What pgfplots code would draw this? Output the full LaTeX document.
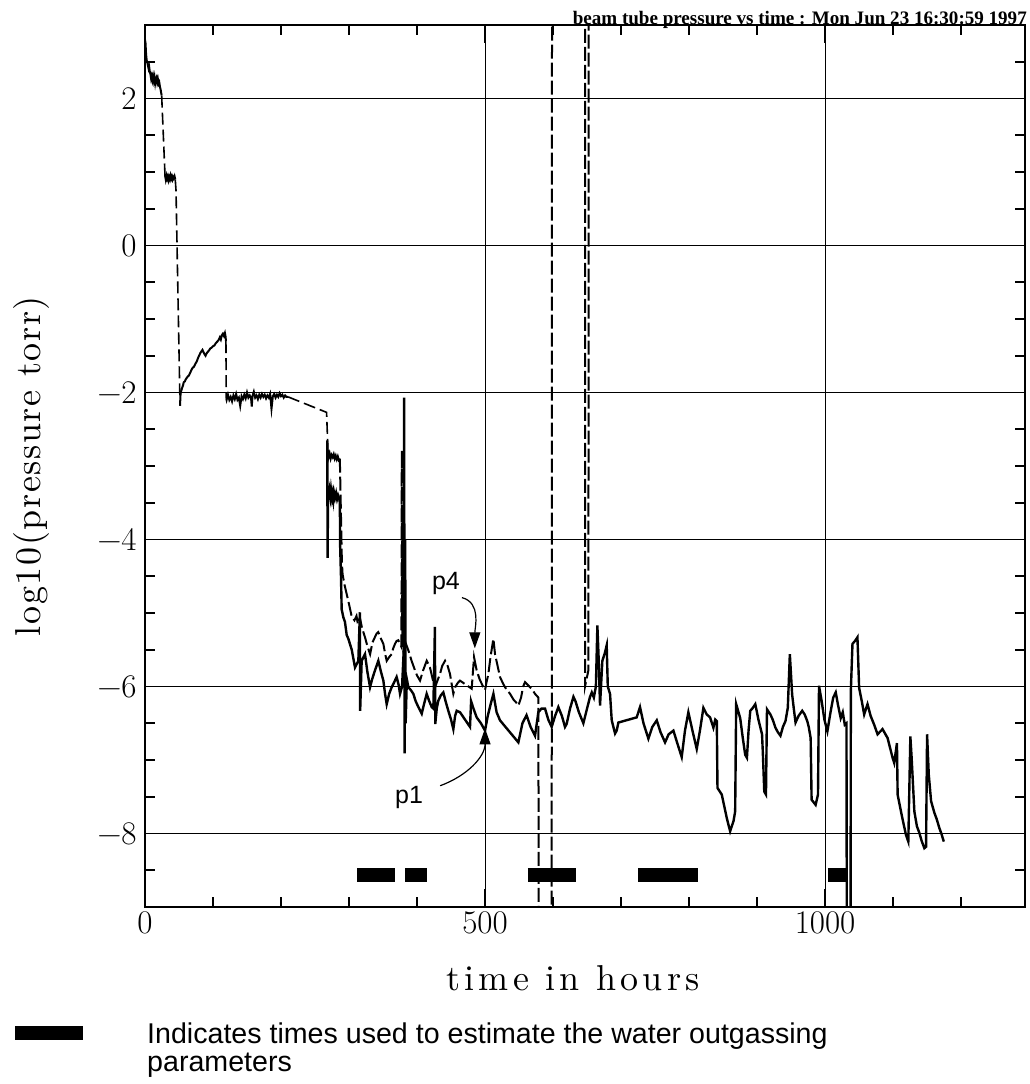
\documentclass[border=0pt]{standalone}
\usepackage{fontspec}
\usepackage{pgfplots}
\pgfplotsset{compat=1.18}
\usetikzlibrary{arrows.meta}
\newfontfamily\sansfont{Liberation Sans}
\newfontfamily\titlefont{Liberation Serif}
\newfontfamily\lmspacedx{lmroman10-regular}[Extension=.otf, LetterSpace=12]
\newfontfamily\lmspacedy{lmroman10-regular}[Extension=.otf, LetterSpace=4.5]
\begin{document}
\begin{tikzpicture}[x=1pt,y=1pt]
\useasboundingbox (0,0) rectangle (1029,-1084);
\begin{axis}[
  at={(145pt,-907pt)}, anchor=south west,
  width=880pt, height=882pt, scale only axis,
  xmin=0, xmax=1294, ymin=-9, ymax=3,
  xtick={0,500,1000}, xticklabels={0,500,1000},
  minor xtick={100,200,300,400,600,700,800,900,1100,1200},
  ytick={-8,-6,-4,-2,0,2}, yticklabels={−8,−6,−4,−2,0,2},
  minor ytick={-8.5,-7.5,-7,-6.5,-5.5,-5,-4.5,-3.5,-3,-2.5,-1.5,-1,-0.5,0.5,1,1.5,2.5},
  major tick length=18pt, minor tick length=10pt,
  tick align=inside,
  every tick/.style={black, line width=1.6pt},
  every minor tick/.style={black, line width=1.6pt},
  axis line style={line width=2pt},
  grid=major, major grid style={line width=1pt, black},
  tick label style={font=\fontsize{33}{33}\selectfont},
  xticklabel style={yshift=-1pt},
  yticklabel style={xshift=-5pt},
]
% ---- p4 (early part, solid noisy pieces) ----
\addplot[black, line width=2pt] coordinates {(0,2.8) (0.8,2.75) (1.6,2.6) (2.5,2.52) (3.4,2.49) (4.3,2.45) (5.2,2.41) (6,2.44) (7,2.37) (8,2.33) (9,2.27) (10,2.31) (11,2.25) (12,2.3) (13,2.24) (14,2.29) (15,2.21) (16,2.27) (17,2.29) (18,2.22) (19,2.26) (20,2.2) (21,2.22) (22,2.16) (23,2.12) (24.5,2.04)};
\addplot[black, line width=2pt] coordinates {(29.4,0.96) (30.5,0.9) (31.5,0.95) (32.5,0.91) (33.5,0.94) (34.5,0.89) (35.5,0.93) (36.5,0.9) (37.5,0.95) (38.5,0.91) (39.5,0.94) (40.5,0.9) (41.5,0.93) (42.5,0.91) (43.5,0.94) (44.5,0.9)};
\addplot[black, line width=2pt] coordinates {(51.5,-2.18) (52.3,-2.02) (53.2,-1.98) (54.5,-1.94) (56,-1.9) (57,-1.86) (58.5,-1.85) (60,-1.82) (61.5,-1.8) (63,-1.78) (64.5,-1.77) (66,-1.74) (67.5,-1.71) (69,-1.68) (70.5,-1.66) (72,-1.65) (74,-1.61) (76,-1.58) (78,-1.53) (80,-1.49) (81.5,-1.46) (83,-1.44) (84.5,-1.42) (86,-1.45) (87.5,-1.48) (89,-1.5) (90.5,-1.47) (92,-1.45) (94,-1.43) (96,-1.4) (98,-1.39) (100,-1.37) (102,-1.36) (104,-1.33) (106,-1.31) (108,-1.29) (110,-1.25) (111.5,-1.28) (113,-1.22) (114.5,-1.2) (116,-1.23) (117.5,-1.19) (118.5,-1.24) (119,-1.3)};
\addplot[black, line width=2pt] coordinates {(119.5,-2.08) (120,-2.1) (122,-2.03) (124,-2.1) (126,-2.06) (128,-2.12) (130,-2.04) (132,-2.09) (134,-2.02) (136,-2.1) (138,-2.07) (140,-2.18) (142,-2.05) (144,-2.09) (146,-2.03) (148,-2.08) (150,-2.0) (152,-2.07) (154,-2.04) (156,-2.08) (157,-2.19) (158,-2.05) (160,-1.99) (162,-2.07) (164,-2.04) (166,-2.09) (168,-2.03) (170,-2.07) (172,-2.02) (174,-2.06) (176,-2.03) (178,-2.08) (180,-2.04) (182,-2.07) (184,-2.02) (186,-2.22) (188,-2.05) (190,-2.02) (192,-2.07) (194,-2.03) (196,-2.06) (198,-2.01) (200,-2.05) (202,-2.03) (204,-2.07) (206,-2.04) (208,-2.06) (210.5,-2.06)};
\addplot[black, line width=2pt] coordinates {(269,-2.78) (270,-2.88) (271.5,-2.83) (273,-2.9) (274.5,-2.85) (276,-2.88) (277.5,-2.84) (279,-2.9) (280.5,-2.86) (282,-2.91) (283.5,-2.87) (285,-2.92) (286.5,-2.9)};
% ---- p4 dashed connectors ----
\addplot[black, line width=1.6pt, dash pattern=on 12pt off 5pt] coordinates {(24.5,2.04) (29.4,0.96)};
\addplot[black, line width=1.6pt, dash pattern=on 12pt off 5pt] coordinates {(44.5,0.9) (45.6,0.75) (51.5,-2.18)};
\addplot[black, line width=1.6pt, dash pattern=on 12pt off 5pt] coordinates {(119,-1.3) (119.5,-2.08)};
\addplot[black, line width=1.6pt, dash pattern=on 12pt off 5pt] coordinates {(210.5,-2.06) (267,-2.27) (269,-2.78)};
% ---- p4 later part (dashed) ----
\addplot[black, line width=2pt, dash pattern=on 14pt off 4pt] coordinates {(286.5,-2.9) (288,-3.6) (289.5,-4.3) (290.5,-4.47) (293,-4.6) (296.5,-4.74) (300,-4.88) (304,-5.05) (308,-5.1) (311,-5.04) (313,-5.15) (316,-5.06) (319,-5.2) (323.5,-5.33) (327,-5.45) (331,-5.56) (334.5,-5.4) (338,-5.33) (340.5,-5.28) (343,-5.26) (347,-5.35) (350.5,-5.42) (353,-5.55) (355.4,-5.65) (359,-5.6) (362.7,-5.56) (365,-5.48) (367.6,-5.42) (370,-5.38) (372.5,-5.37) (375,-5.42) (377,-5.46) (377.6,-2.79) (378.3,-5.3) (379.5,-3.6) (380.5,-5.6) (383,-5.4) (387.3,-5.51) (392,-5.65) (397,-5.78) (400,-5.85) (404.4,-5.92) (409,-5.78) (414.2,-5.65) (419,-5.74) (423,-5.9) (426.5,-6.01) (430,-5.92) (433.8,-5.83) (437,-5.72) (441.2,-5.65) (445,-5.72) (448.5,-5.83) (451,-5.97) (453.4,-6.10) (456,-6.01) (460,-5.95) (463.2,-5.92) (480.4,-6.03) (483.8,-5.60) (487.7,-5.78) (492,-5.9) (496,-5.98) (500,-6.05) (502,-5.95) (504.9,-5.83) (508,-5.6) (512.3,-5.35) (514.7,-5.56) (518,-5.7) (522,-5.87) (526,-5.95) (529.4,-6.01) (536.8,-6.10) (542,-6.18) (546,-6.22) (549,-6.26) (553,-6.15) (556,-6.0) (558.8,-5.94) (562,-5.97) (566.2,-6.01) (570,-6.05) (573.5,-6.10) (578.4,-6.15) (579,-9.5) (598,-9.5) (598.5,3.5) (647,3.5) (647,-6.0) (652,-5.78) (652.5,3.5)};
% ---- p1 (solid) ----
\addplot[black, line width=2.4pt] coordinates {(268,-2.65) (268.5,-4.25) (269.2,-3.3) (270.5,-3.45) (271.5,-3.35) (272.5,-3.42) (273.5,-3.32) (275,-3.44) (276,-3.38) (277,-3.46) (278,-3.36) (279.5,-3.43) (281,-3.37) (282.5,-3.45) (284,-3.4) (285.5,-3.44) (286.5,-3.5) (287,-4.1) (288.2,-4.51) (289.2,-4.95) (291.7,-5.06) (294,-5.12) (296.6,-5.3) (299,-5.35) (304,-5.5) (308.8,-5.74) (313.7,-5.65) (316,-4.99) (316.4,-6.33) (318.6,-5.65) (323.5,-5.56) (327,-5.8) (330.9,-6.01) (334,-5.9) (338.2,-5.78) (343.1,-5.65) (347,-5.8) (350.5,-5.92) (353,-6.1) (355.4,-6.24) (359,-6.1) (362.7,-6.01) (366,-5.95) (370,-5.87) (373,-5.98) (375,-6.10) (378,-6.0) (380.5,-5.5) (381,-2.07) (381.8,-6.91) (382.6,-4.0) (383.3,-6.5) (385,-5.9) (387.3,-6.01) (391,-6.05) (394.6,-6.10) (398,-6.2) (402,-6.28) (406.9,-6.37) (410,-6.25) (414.2,-6.10) (418,-6.2) (421.6,-6.28) (424,-6.3) (426.3,-5.19) (426.8,-6.51) (429,-6.3) (431.4,-6.19) (435,-6.12) (438.7,-6.08) (442,-6.2) (446,-6.33) (450,-6.45) (453.4,-6.58) (456,-6.4) (458.3,-6.33) (463.2,-6.35) (477.9,-6.55) (479.5,-6.2) (483,-6.3) (487.7,-6.42) (494,-6.5) (500,-6.6) (504,-6.4) (508,-6.25) (512.3,-6.10) (517,-6.35) (522,-6.46) (549,-6.76) (555,-6.5) (561,-6.39) (567,-6.55) (573.5,-6.67) (578.4,-6.35) (583,-6.3) (588.2,-6.30) (593,-6.45) (598,-6.55) (603,-6.4) (607.8,-6.28) (613,-6.4) (617.6,-6.55) (620,-6.51) (625,-6.3) (630,-6.14) (633,-6.2) (638,-6.35) (644.6,-6.5) (650,-6.3) (654.4,-6.14) (657,-6.08) (660,-6.15) (663,-6.0) (665.2,-5.17) (667,-5.6) (669.1,-6.26) (672.5,-5.65) (676,-5.55) (678.9,-5.44) (680.5,-6.0) (683.8,-6.1) (686.3,-6.46) (691.2,-6.64) (693.6,-6.6) (696.1,-6.49) (723,-6.42) (727.9,-6.28) (733,-6.5) (740.2,-6.71) (746,-6.55) (752.5,-6.46) (758,-6.62) (764.7,-6.76) (770,-6.65) (777,-6.60) (783,-6.78) (789.2,-6.96) (794,-6.6) (799,-6.35) (805,-6.6) (811.3,-6.85) (816,-6.6) (821.1,-6.29) (826,-6.38) (830.9,-6.42) (835.8,-6.56) (838.5,-6.45) (840.8,-6.47) (841.8,-7.38) (848.1,-7.47) (855.5,-7.79) (860.4,-7.97) (865.4,-7.83) (867.8,-7.70) (869.3,-6.24) (875.2,-6.43) (879,-6.7) (882.6,-6.93) (885.1,-6.97) (887.5,-6.6) (890,-6.33) (893,-6.3) (897.4,-6.24) (902,-6.45) (907.3,-6.65) (908.5,-6.9) (910.6,-7.43) (913.1,-7.47) (914.6,-6.31) (919.6,-6.38) (923,-6.45) (927,-6.56) (930.5,-6.62) (934.4,-6.67) (938,-6.55) (941.8,-6.47) (945.2,-6.29) (948.2,-5.56) (951.6,-6.11) (954,-6.3) (956.6,-6.49) (961,-6.4) (966.4,-6.33) (970,-6.38) (973.8,-6.47) (976,-6.55) (978.8,-6.70) (980.2,-7.54) (986.1,-7.61) (989.6,-7.47) (991.1,-5.99) (995,-6.2) (999,-6.45) (1003.4,-6.61) (1008,-6.35) (1012,-6.15) (1015.7,-6.08) (1019,-6.25) (1023,-6.43) (1026,-6.35) (1029,-6.52) (1031.5,-6.5) (1032,-9.5) (1037.5,-9.5) (1037.9,-6.06) (1040.3,-5.42) (1044,-5.38) (1047.6,-5.33) (1050.1,-6.02) (1054,-6.2) (1057.5,-6.38) (1062.4,-6.24) (1067,-6.4) (1072.2,-6.52) (1077.2,-6.65) (1084.5,-6.58) (1091.9,-6.70) (1096,-6.85) (1099.3,-6.97) (1101.7,-7.04) (1105.7,-6.77) (1106.7,-7.47) (1111.6,-7.70) (1115,-7.85) (1119,-8.02) (1122.4,-8.11) (1125.4,-6.68) (1127.3,-6.97) (1131.3,-7.70) (1135,-7.9) (1138.6,-7.99) (1142,-8.1) (1146,-8.20) (1148.5,-8.18) (1150,-6.65) (1152.5,-7.2) (1155.9,-7.56) (1160.8,-7.72) (1164,-7.8) (1168.2,-7.93) (1171,-8.0) (1174.6,-8.11)};
% ---- times used to estimate water outgassing parameters ----
\addplot[black, line width=14pt] coordinates {(312,-8.558) (368,-8.558)};
\addplot[black, line width=14pt] coordinates {(383,-8.558) (414,-8.558)};
\addplot[black, line width=14pt] coordinates {(563,-8.558) (634,-8.558)};
\addplot[black, line width=14pt] coordinates {(725,-8.558) (813,-8.558)};
\addplot[black, line width=14pt] coordinates {(1004,-8.558) (1031,-8.558)};
% ---- annotations ----
\node[font=\sansfont\fontsize{25}{25}\selectfont, inner sep=0] at (axis cs:442.6,-4.60) {p4};
\node[font=\sansfont\fontsize{25}{25}\selectfont, inner sep=0] at (axis cs:388.2,-7.51) {p1};
\draw[line width=1.2pt, -{Triangle[length=16pt,width=11pt]}] (axis cs:466,-4.79) to[out=-15,in=90] (axis cs:485,-5.48);
\draw[line width=1.2pt, -{Triangle[length=16pt,width=11pt]}] (axis cs:434,-7.35) to[out=20,in=-90] (axis cs:500,-6.57);
\end{axis}
% ---- texts around ----
\node[anchor=base east, inner sep=0] at (1027,-24) {\resizebox{454pt}{!}{\titlefont\bfseries beam tube pressure vs time : Mon Jun 23 16:30:59 1997}};
\node[anchor=base, inner sep=0, font=\lmspacedx\fontsize{36}{36}\selectfont] at (573,-990) {time in hours};
\node[anchor=base, rotate=90, inner sep=0, font=\lmspacedy\fontsize{36}{36}\selectfont] at (40,-466) {log10(pressure torr)};
\fill[black] (15,-1026) rectangle (83,-1040);
\node[anchor=base west, inner sep=0, font=\sansfont\fontsize{28.6}{30}\selectfont] at (147,-1043) {Indicates times used to estimate the water outgassing};
\node[anchor=base west, inner sep=0, font=\sansfont\fontsize{28.6}{30}\selectfont] at (147,-1071) {parameters};
\end{tikzpicture}
\end{document}
